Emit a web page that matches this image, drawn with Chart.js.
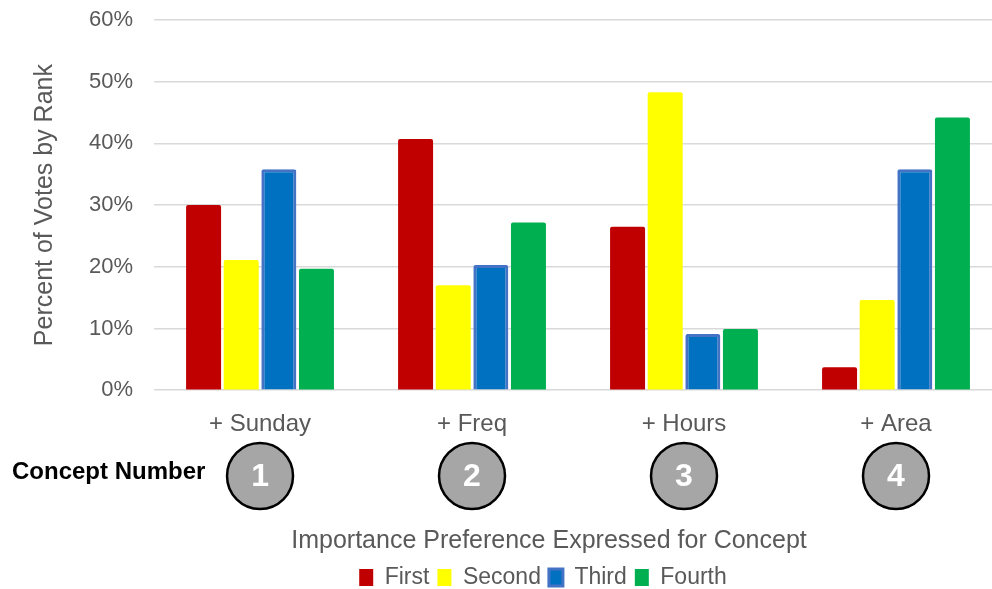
<!DOCTYPE html>
<html lang="en">
<head>
    <meta charset="UTF-8">
    <title>Percent of Votes by Rank</title>
    <script src="https://cdn.jsdelivr.net/npm/chart.js"></script>
    <style>
        html, body {
            margin: 0;
            padding: 0;
            background: #fff;
            overflow: hidden;
        }
        .chart-box {
            width: 1004px;
            height: 589px;
        }
    </style>
</head>
<body>
    <div class="chart-box"><canvas id="chart"></canvas></div>

    <script>
        const concepts = ['+ Sunday', '+ Freq', '+ Hours', '+ Area'];
        const conceptNumbers = ['1', '2', '3', '4'];
        const ranks = ['First', 'Second', 'Third', 'Fourth'];
        const firstVotes = [30.0, 40.7, 26.5, 3.7];
        const secondVotes = [21.1, 17.0, 48.3, 14.6];
        const thirdVotes = [35.8, 20.3, 9.1, 35.8];
        const fourthVotes = [19.7, 27.2, 9.9, 44.2];

        const FONT = "'Liberation Sans Narrow', 'Arial Narrow', 'Liberation Sans', Arial, sans-serif";
        const GREY = '#595959';

        // circles with the concept number under each category label
        const conceptCircles = {
            id: 'conceptCircles',
            afterLayout(chart) {
                // the bottom title and legend sit a bit right of the canvas centre
                chart.titleBlock.left += 35;
                chart.titleBlock.right += 35;
                chart.legend.left += 29;
                chart.legend.right += 29;
            },
            afterDraw(chart) {
                const ctx = chart.ctx;
                const x = chart.scales.x;
                const cy = 476;
                ctx.save();
                conceptNumbers.forEach((num, i) => {
                    const cx = x.getPixelForValue(i);
                    ctx.beginPath();
                    ctx.arc(cx, cy, 33, 0, Math.PI * 2);
                    ctx.fillStyle = '#A6A6A6';
                    ctx.fill();
                    ctx.lineWidth = 2.5;
                    ctx.strokeStyle = '#000';
                    ctx.stroke();
                    ctx.fillStyle = '#fff';
                    ctx.font = 'bold 32px ' + FONT;
                    ctx.textAlign = 'center';
                    ctx.textBaseline = 'middle';
                    ctx.fillText(num, cx, cy + 1);
                });
                ctx.fillStyle = '#000';
                ctx.font = 'bold 24px ' + FONT;
                ctx.textAlign = 'left';
                ctx.textBaseline = 'middle';
                ctx.fillText('Concept Number', 12, 472);
                ctx.restore();
            }
        };

        new Chart(document.getElementById('chart').getContext('2d'), {
            type: 'bar',
            data: {
                labels: concepts,
                datasets: [
                    { label: ranks[0], data: firstVotes, backgroundColor: '#C00000', borderRadius: 2 },
                    { label: ranks[1], data: secondVotes, backgroundColor: '#FFFF00', borderRadius: 2 },
                    { label: ranks[2], data: thirdVotes, backgroundColor: '#0070C0', borderColor: '#4472C4', borderWidth: 3, borderRadius: 2 },
                    { label: ranks[3], data: fourthVotes, backgroundColor: '#00B050', borderRadius: 2 }
                ]
            },
            options: {
                responsive: true,
                maintainAspectRatio: false,
                animation: false,
                layout: { padding: { top: 0, left: 26, right: 2, bottom: -10 } },
                categoryPercentage: 0.71,
                barPercentage: 0.93,
                scales: {
                    x: {
                        grid: { display: false, drawTicks: false },
                        border: { display: false },
                        ticks: { color: GREY, font: { family: FONT, size: 24 }, padding: 20 }
                    },
                    y: {
                        min: 0,
                        max: 60,
                        grid: { color: '#D9D9D9', lineWidth: 1.5, drawTicks: false },
                        border: { display: false },
                        ticks: {
                            stepSize: 10,
                            color: GREY,
                            font: { family: FONT, size: 22 },
                            padding: 21,
                            callback: v => v + '%'
                        },
                        afterFit: scale => { scale.paddingTop = 20; },
                        title: {
                            display: true,
                            text: 'Percent of Votes by Rank',
                            color: GREY,
                            font: { family: FONT, size: 25 },
                            padding: { bottom: 8 }
                        }
                    }
                },
                plugins: {
                    title: {
                        display: true,
                        position: 'bottom',
                        weight: 500,
                        text: 'Importance Preference Expressed for Concept',
                        color: GREY,
                        font: { family: FONT, size: 25, weight: 'normal' },
                        padding: { top: 67, bottom: 2 }
                    },
                    legend: {
                        position: 'bottom',
                        labels: {
                            color: GREY,
                            font: { family: FONT, size: 23 },
                            boxWidth: 14,
                            boxHeight: 17,
                            padding: 8
                        }
                    },
                    tooltip: { enabled: false }
                }
            },
            plugins: [conceptCircles]
        });
    </script>
</body>
</html>
